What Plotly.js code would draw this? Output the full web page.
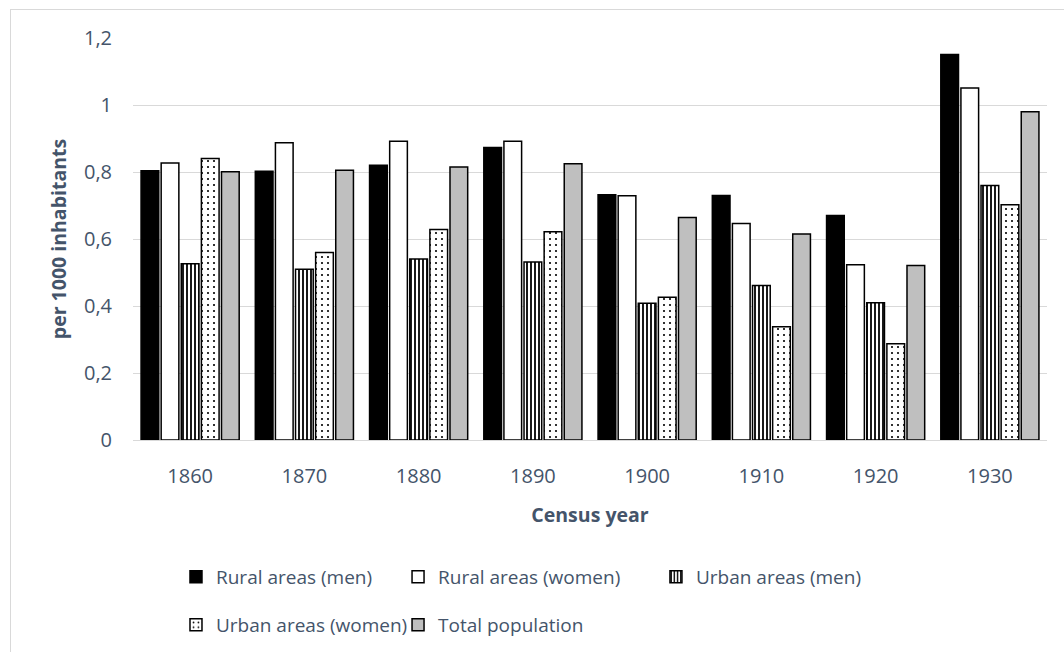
<!DOCTYPE html>
<html>
<head>
<meta charset="utf-8">
<script src="https://cdn.plot.ly/plotly-3.0.1.min.js"></script>
<style>
  html, body { margin: 0; padding: 0; background: #ffffff; }
  #chart { width: 1064px; height: 652px; position: relative; }
  #frame { position: absolute; left: 10px; top: 9px; width: 1100px; height: 700px;
           border-left: 1px solid #D9D9D9; border-top: 1px solid #D9D9D9; pointer-events: none; }
</style>
</head>
<body>
<div id="chart"></div>
<div id="frame"></div>
<script>
const years = ["1860", "1870", "1880", "1890", "1900", "1910", "1920", "1930"];
const seriesNames = ["Rural areas (men)", "Rural areas (women)", "Urban areas (men)", "Urban areas (women)", "Total population"];
const ruralMen   = [0.804, 0.802, 0.820, 0.873, 0.732, 0.730, 0.670, 1.151];
const ruralWomen = [0.827, 0.887, 0.892, 0.892, 0.729, 0.646, 0.523, 1.051];
const urbanMen   = [0.526, 0.510, 0.540, 0.531, 0.408, 0.461, 0.410, 0.760];
const urbanWomen = [0.840, 0.560, 0.628, 0.622, 0.426, 0.338, 0.287, 0.702];
const totalPop   = [0.801, 0.805, 0.815, 0.825, 0.664, 0.615, 0.521, 0.980];
const yTicks = [0, 0.2, 0.4, 0.6, 0.8, 1, 1.2];

const FONT = "Open Sans, Noto Sans, sans-serif";
const TXT = "#44546A";
const line = {color: "#000000", width: 1.5};

const traces = [
  {y: ruralMen, name: seriesNames[0], legend: "legend",
   marker: {color: "#000000", line: line}},
  {y: ruralWomen, name: seriesNames[1], legend: "legend2",
   marker: {color: "#FFFFFF", line: line}},
  {y: urbanMen, name: seriesNames[2], legend: "legend3",
   marker: {color: "#FFFFFF", line: line,
            pattern: {shape: "|", fgcolor: "#000000", bgcolor: "#FFFFFF", size: 4, solidity: 0.45}}},
  {y: urbanWomen, name: seriesNames[3], legend: "legend4",
   marker: {color: "#FFFFFF", line: line,
            pattern: {shape: ".", fgcolor: "#000000", bgcolor: "#FFFFFF", size: 6, solidity: 0.1}}},
  {y: totalPop, name: seriesNames[4], legend: "legend5",
   marker: {color: "#BFBFBF", line: line}}
].map(t => Object.assign({type: "bar", x: years, hoverinfo: "skip"}, t));

function leg(x, y) {
  return {x: x, y: y, xref: "container", yref: "container", xanchor: "left", yanchor: "middle",
          orientation: "h", bgcolor: "rgba(0,0,0,0)", borderwidth: 0,
          font: {family: FONT, size: 19, color: TXT}};
}

const layout = {
  width: 1064, height: 652,
  margin: {l: 133, r: 17, t: 38, b: 212},
  paper_bgcolor: "#FFFFFF", plot_bgcolor: "#FFFFFF",
  separators: ", ",
  barmode: "group", bargap: 0.12, bargroupgap: 0.12,
  font: {family: FONT, size: 20, color: TXT},
  xaxis: {
    type: "category", showgrid: false, showline: true, linecolor: "#D9D9D9", linewidth: 1,
    ticks: "", ticklabelstandoff: 18, tickfont: {family: FONT, size: 20, color: TXT},
    title: {text: "Census year", font: {family: FONT, size: 19.5, color: TXT, weight: "bold"}, standoff: 20}
  },
  yaxis: {
    range: [0, 1.2], tickvals: yTicks, showgrid: true, gridcolor: "#D9D9D9", gridwidth: 1,
    zeroline: false, showline: false, ticks: "", ticklabelstandoff: 20,
    tickfont: {family: FONT, size: 20, color: TXT},
    title: {text: "per 1000 inhabitants", font: {family: FONT, size: 19.5, color: TXT, weight: "bold"}, standoff: 12}
  },
  legend:  leg(0.1654, 0.1150),
  legend2: leg(0.3741, 0.1150),
  legend3: leg(0.6165, 0.1150),
  legend4: leg(0.1654, 0.0414),
  legend5: leg(0.3741, 0.0414),
  showlegend: true
};

Plotly.newPlot("chart", traces, layout, {displayModeBar: false, staticPlot: true});
</script>
</body>
</html>
